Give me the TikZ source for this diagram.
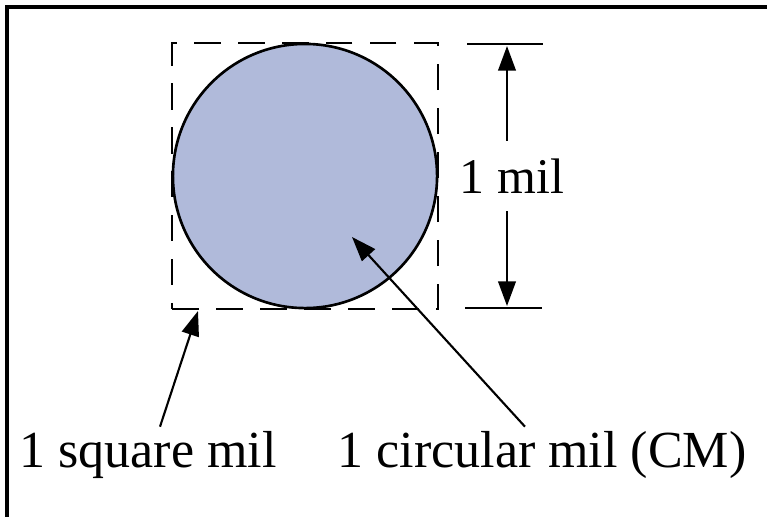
\documentclass[tikz,border=0pt]{standalone}
\usepackage{fontspec}
\setmainfont{Liberation Serif}
\usetikzlibrary{arrows.meta}

\begin{document}
\begin{tikzpicture}[x=0.01cm,y=0.01cm,
        ptr/.style={line width=0.6pt,-{Triangle[length=7pt,width=5pt]}},
        lbl/.style={inner sep=1pt,font=\fontsize{14.2}{17}\selectfont}]
        \useasboundingbox (0,0) rectangle (767,517);

        % Cadre
        \draw[line width=0.9pt] (767,510) -- (7,510) -- (7,0);

        % Carre et cercle
        \coordinate (O) at (305,341);
        \node[draw,dash pattern=on 7.5pt off 5pt,line width=0.6pt,minimum size=2.65cm,inner sep=0pt] (sq) at (O) {};
        \node[draw,circle,fill={rgb,255:red,176;green,186;blue,218},line width=0.75pt,minimum size=2.64cm,inner sep=0pt] (cm) at (O) {};

        % Cote 1 mil
        \coordinate (T1) at (467,473);
        \coordinate (T2) at (543,473);
        \coordinate (B1) at (465,209);
        \coordinate (B2) at (542,209);
        \coordinate (dtop) at (507,471);
        \coordinate (dbot) at (507,211);
        \draw[line width=0.6pt] (T1) -- (T2);
        \draw[line width=0.6pt] (B1) -- (B2);
        \node[lbl,inner ysep=0.17cm,fill=white] (mil) at (512,341) {1 mil};
        \draw[ptr] (mil.north -| dtop) -- (dtop);
        \draw[ptr] (mil.south -| dbot) -- (dbot);

        % Labels
        \node[lbl,anchor=base,font=\fontsize{14.8}{17}\selectfont] (sqlbl) at (148,50) {1 square mil};
        \node[lbl,anchor=base,font=\fontsize{14.8}{17}\selectfont] (cmlbl) at (542,50) {1 circular mil (CM)};

        % Fleches
        \coordinate (sqtip) at (198,206);
        \coordinate (cmtip) at (352,280);
        \draw[ptr] ([xshift=0.12cm]sqlbl.north) -- (sqtip);
        \draw[ptr] ([xshift=-0.17cm]cmlbl.north) -- (cmtip);
    \end{tikzpicture}
\end{document}
